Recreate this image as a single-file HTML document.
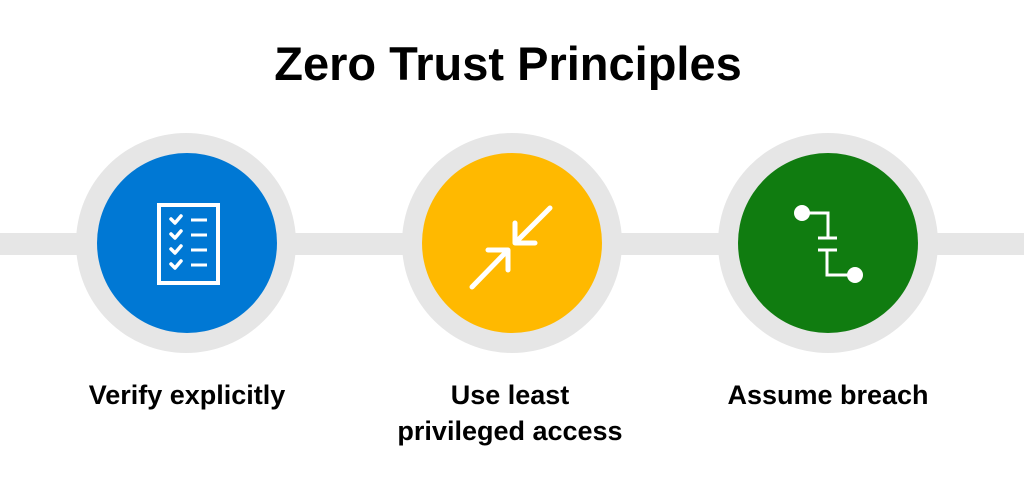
<!DOCTYPE html>
<html><head><style>
body{margin:0;width:1024px;height:490px;background:#fff;overflow:hidden;font-family:"Liberation Sans",sans-serif;}
</style></head><body>
<svg width="1024" height="490" viewBox="0 0 1024 490" xmlns="http://www.w3.org/2000/svg">
<rect x="0" y="233" width="1024" height="22" fill="#e6e6e6"/>
<circle cx="186" cy="243" r="110" fill="#e6e6e6"/>
<circle cx="512" cy="243" r="110" fill="#e6e6e6"/>
<circle cx="828" cy="243" r="110" fill="#e6e6e6"/>
<circle cx="187" cy="243" r="90" fill="#0078d4"/>
<circle cx="512" cy="243" r="90" fill="#ffb900"/>
<circle cx="828" cy="243" r="90" fill="#107c10"/>
<g stroke="#fff" fill="none" stroke-width="4">
<rect x="159" y="205" width="59" height="78"/>
<g stroke-width="3.5" stroke-linecap="round" stroke-linejoin="round">
<path d="M171 219l4 4 6-7M171 234l4 4 6-7M171 249l4 4 6-7M171 264l4 4 6-7"/>
</g>
<path d="M191 220h16M191 235h16M191 250h16M191 265h16" stroke-width="3"/>
</g>
<g stroke="#fff" fill="none" stroke-width="5" stroke-linecap="round" stroke-linejoin="round">
<path d="M550 208L515 243M515 223v20h20"/>
<path d="M472 287L508 250M488 250h20v20"/>
</g>
<g stroke="#fff" fill="none" stroke-width="3">
<path d="M802 213h26v25M818 238h19M818 250h19M827 250v25h28"/>
</g>
<circle cx="802" cy="213" r="8" fill="#fff"/>
<circle cx="855" cy="275" r="8" fill="#fff"/>
<g font-family="Liberation Sans, sans-serif" fill="#000" text-anchor="middle" font-weight="bold">
<text x="508" y="80" font-size="47">Zero Trust Principles</text>
<text x="187" y="404" font-size="27">Verify explicitly</text>
<text x="510" y="404" font-size="27">Use least</text>
<text x="510" y="440" font-size="27">privileged access</text>
<text x="828" y="404" font-size="27">Assume breach</text>
</g>
</svg>
</body></html>
